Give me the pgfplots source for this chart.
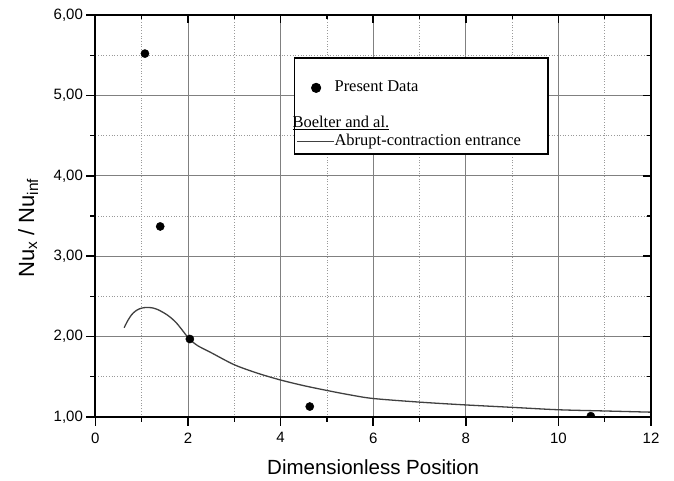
\documentclass[border=0pt]{standalone}
\usepackage{fontspec}
\setmainfont{Liberation Sans}
\newfontfamily\legfont{Liberation Serif}
\usepackage{pgfplots}
\pgfplotsset{compat=1.18}

\definecolor{majgrid}{gray}{0.5}
\definecolor{mingrid}{gray}{0.6}
\definecolor{curve}{gray}{0.25}

\begin{document}
\begin{tikzpicture}
\pgfplotsset{
  base/.style={
    scale only axis, width=555.6pt, height=402pt,
    xmin=0, xmax=12, ymin=1, ymax=6,
    xtick={0,2,...,12}, ytick={1,2,...,6},
    minor x tick num=1, minor y tick num=1,
    axis line style={black, line width=1.8pt},
    major tick style={black, line width=1.6pt},
    minor tick style={black, line width=1.2pt},
  }
}
\begin{axis}[
  base,
  tick align=outside, xtick pos=bottom, ytick pos=left,
  major tick length=9pt, minor tick length=5pt,
  grid=both,
  major grid style={majgrid, line width=1pt, solid},
  minor grid style={mingrid, line width=0.7pt, dotted},
  /pgf/number format/assume math mode=true,
  tick label style={font=\fontsize{15}{18}\selectfont},
  yticklabel style={/pgf/number format/.cd, fixed, fixed zerofill, precision=2, use comma},
  xticklabel style={yshift=-3pt},
  xlabel={Dimensionless Position},
  ylabel={Nu\textsubscript{x} / Nu\textsubscript{inf}},
  every axis x label/.style={at={(axis description cs:0.5,-0.124)}, anchor=center,
    font=\fontsize{20.5}{24}\selectfont},
  every axis y label/.style={at={(axis description cs:-0.121,0.47)}, rotate=90, anchor=center,
    font=\fontsize{22}{26}\selectfont},
  clip marker paths=true,
  legend style={at={(axis cs:4.29,5.475)}, anchor=north west,
    draw=black, line width=1.3pt, fill=white,
    font=\legfont\fontsize{16.5}{18}\selectfont,
    inner xsep=2pt, inner ysep=3pt, row sep=0pt,
    nodes={inner sep=0pt, text height=13pt, text depth=5pt},
    /tikz/every even column/.append style={column sep=5pt}},
  legend cell align=left,
]
\addlegendimage{empty legend}\addlegendentry{}
\addlegendimage{legend image code/.code={
  \draw[white, line width=0pt] (0pt,0pt) -- (37pt,0pt);
  \fill[black] (19pt,0pt) circle (4.4pt);}}
\addlegendentry{Present Data}
\addlegendimage{empty legend}\addlegendentry{}
\addlegendimage{empty legend}\addlegendentry{\hspace{-42pt}\underline{Boelter and al.}}
\addlegendimage{legend image code/.code={
  \draw[curve, line width=0.9pt] (0pt,0pt) -- (37pt,0pt);}}
\addlegendentry{Abrupt-contraction entrance\rule{25pt}{0pt}}

\addplot[curve, line width=1.3pt, smooth, forget plot] coordinates {
  (0.62,2.11) (0.70,2.20) (0.78,2.27) (0.86,2.315) (0.95,2.345) (1.05,2.36)
  (1.15,2.362) (1.25,2.355) (1.35,2.335) (1.45,2.305) (1.55,2.27) (1.65,2.225)
  (1.75,2.17) (1.85,2.10) (1.95,2.025) (2.04,1.965)
  (2.2,1.89) (2.5,1.80) (3.0,1.65) (3.5,1.545) (4.0,1.46) (4.5,1.39)
  (5.0,1.33) (5.5,1.275) (6.0,1.23) (7,1.185) (8,1.15) (9,1.12)
  (10,1.09) (11,1.075) (12,1.06)
};
\addplot[only marks, mark=*, mark size=4.1pt, black, forget plot] coordinates {
  (1.07,5.52) (1.40,3.37) (2.04,1.97) (4.63,1.13) (10.70,1.01)
};
\end{axis}
\begin{axis}[
  base,
  tick align=inside, xtick pos=top, ytick pos=right,
  major tick length=8pt, minor tick length=4pt,
  xticklabels={}, yticklabels={},
]
\end{axis}
\path[use as bounding box] (-95.4pt,-64pt) rectangle (578.6pt,417pt);
\end{tikzpicture}
\end{document}
